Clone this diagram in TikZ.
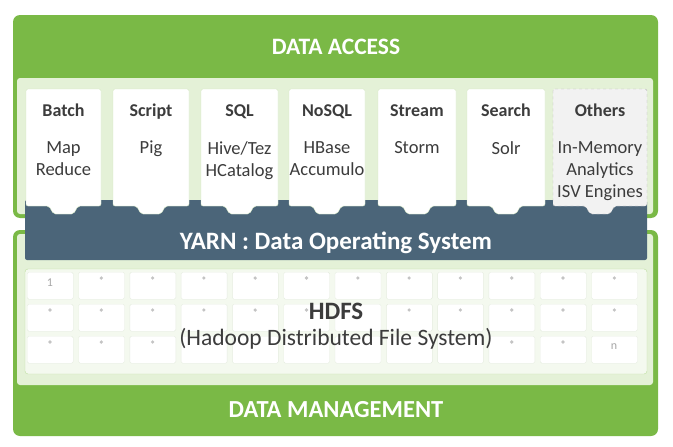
\documentclass[tikz,border=0pt]{standalone}
\usepackage{fontspec}
\setmainfont{Carlito}
\usetikzlibrary{positioning}
\definecolor{hdpgreen}{HTML}{7AB946}
\definecolor{panelgreen}{HTML}{E4F1D7}
\definecolor{hdfsfill}{HTML}{F4F9EF}
\definecolor{hdfsline}{HTML}{BFDFA0}
\definecolor{cardline}{HTML}{D6E8C6}
\definecolor{cellline}{HTML}{E6EDE0}
\definecolor{yarnblue}{HTML}{4B6579}
\definecolor{textgray}{HTML}{3C3C3C}
\definecolor{dotgray}{HTML}{C4C4C4}
\tikzset{
	outerbox/.style = {fill=hdpgreen, rounded corners=7pt},
	innerpanel/.style = {fill=panelgreen, rounded corners=3pt},
	headline/.style = {font=\fontsize{23.5}{26}\selectfont\bfseries, text=white,
		inner sep=0pt, anchor=base},
	cardshape/.style = {draw=cardline, fill=white, rounded corners=2pt},
	othershape/.style = {draw=gray!55, fill=gray!10, dashed, rounded corners=2pt},
	cardtitle/.style = {font=\fontsize{18}{22}\selectfont\bfseries, text=textgray,
		inner sep=0pt, anchor=base},% titre de la carte
	cardbody/.style = {font=\fontsize{18.5}{22}\selectfont, text=textgray,
		align=center, inner sep=0pt, anchor=north},% contenu de la carte
	cell/.style = {fill=white, draw=cellline, rounded corners=1.5pt,
		anchor=north west, minimum width=46pt, minimum height=27pt, inner sep=0pt},
	celltext/.style = {font=\fontsize{12}{14}\selectfont, text=gray!70, inner sep=0pt}
}
\begin{document}
\begin{tikzpicture}[x=1pt,y=-1pt]
	\useasboundingbox (0,0) rectangle (673,447);
	% data access
	\fill[outerbox] (13,15) rectangle (658,218);
	\fill[innerpanel] (17,78) rectangle (653,214);
	\node[headline] (access) at (336,54) {DATA ACCESS};
	% data management
	\fill[outerbox] (13,230) rectangle (658,436);
	\fill[innerpanel] (17,234) rectangle (653,385);
	\node[headline, font=\fontsize{24.5}{26}\selectfont\bfseries] (mgmt) at (336,417)
		{DATA MANAGEMENT};
	% yarn
	\fill[yarnblue, rounded corners=2pt] (25,200) rectangle (647,260);
	\node[headline, font=\fontsize{25}{26}\selectfont\bfseries] (yarn) at (336,249)
		{YARN : Data Operating System};
	% cartes
	\foreach \x/\w/\nm/\ttl/\bdy in {26/75/batch/Batch/{Map\\Reduce},
			113/76/script/Script/{Pig}, 201/77/sql/SQL/{Hive/Tez\\HCatalog},
			289/76/nosql/NoSQL/{HBase\\Accumulo}, 378/78/stream/Stream/{Storm},
			467/78/search/Search/{Solr}}
	{
		\pgfmathsetmacro{\cx}{\x+\w/2}
		\draw[cardshape] (\x,89) -- (\x+\w,89) -- (\x+\w,206) -- (\cx+14.5,206)
			-- (\cx+10,214) -- (\cx-10,214) -- (\cx-14.5,206) -- (\x,206) -- cycle;
		\node[cardtitle] (\nm) at (\cx,116) {\ttl};
		\node[cardbody] (\nm-body) at (\cx,141) {\bdy};
	}
	\draw[othershape] (553,89) -- (647,89) -- (647,206) -- (614.5,206) -- (610,214)
		-- (590,214) -- (585.5,206) -- (553,206) -- cycle;
	\node[cardtitle] (others) at (600,116) {Others};
	\node[cardbody] (others-body) at (600,141) {In-Memory\\Analytics\\ISV Engines};
	% hdfs
	\draw[fill=hdfsfill, draw=hdfsline, rounded corners=3pt] (25,269) rectangle (647,374);
	\foreach \c in {1,...,12}
		\foreach \r in {1,2,3}
			\node[cell] (cell-\r-\c) at ({27+51.3*(\c-1)},{272+32*(\r-1)}) {};
	\foreach \r/\c in {1/2,1/3,1/4,1/5,1/6,1/7,1/8,1/9,1/10,1/11,1/12,
			2/1,2/2,2/3,2/4,2/5,2/6,2/8,2/9,2/10,2/11,2/12,
			3/1,3/2,3/3,3/10,3/11}
		\fill[dotgray] ({50+51.3*(\c-1)},{278+32*(\r-1)}) circle (1.8pt);
	\node[celltext] (first) at (50,283) {1};
	\node[celltext] (last) at (614,347) {n};
	\node[headline, text=textgray, font=\fontsize{25}{26}\selectfont\bfseries] (hdfs)
		at (336,319) {HDFS};
	\node[headline, text=textgray, font=\fontsize{23.5}{26}\selectfont\mdseries] (hdfs-sub)
		at (336,345) {(Hadoop Distributed File System)};
\end{tikzpicture}
\end{document}
